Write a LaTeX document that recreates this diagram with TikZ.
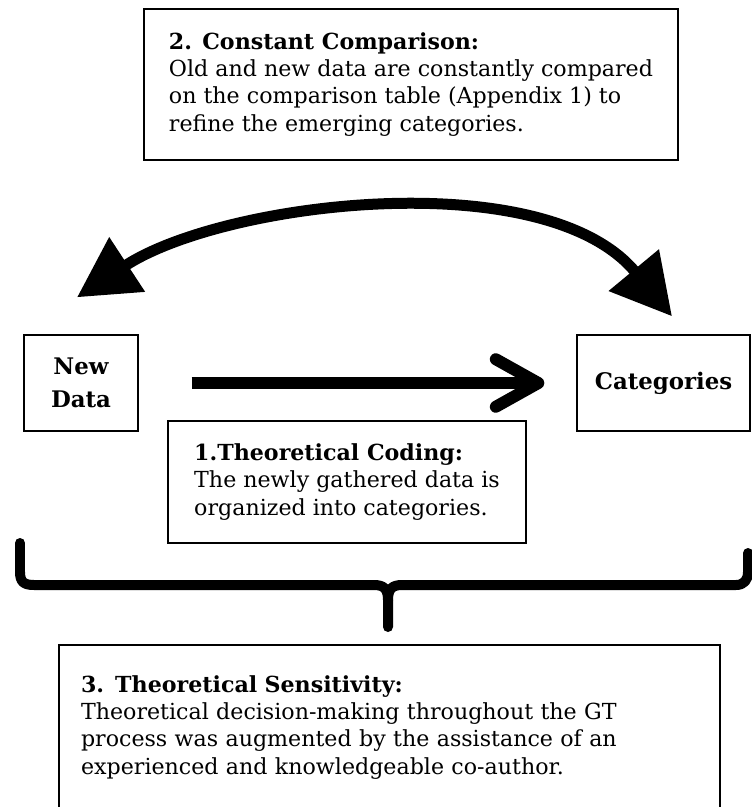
\documentclass[tikz,border=0pt]{standalone}
\usepackage{fontspec}
\setmainfont{DejaVu Serif}
\usetikzlibrary{arrows.meta}

\begin{document}
\begin{tikzpicture}[x=0.02cm, y=-0.02cm,
    textbox/.style={draw, line width=0.8pt, align=left, inner sep=0pt, font=\fontsize{12.6}{15.4}\selectfont},
    labelbox/.style={draw, line width=0.8pt, align=center, inner sep=0pt, font=\fontsize{13}{18.5}\selectfont\bfseries},
    cyclearrow/.style={line width=0.22cm, {Triangle[length=1.2cm, width=1.25cm]}-{Triangle[length=1.2cm, width=1.25cm]}},
    codearrow/.style={line width=0.24cm, -{Straight Barb[length=0.85cm, width=0.95cm, round]}},
    braceline/.style={line width=0.2cm, line cap=round, line join=round},
  ]
    \useasboundingbox (0,0) rectangle (751,807);

    % Constant comparison
    \node[textbox, minimum width=10.68cm, minimum height=3.02cm] (compare) at (411,84.5)
      {\textbf{2. Constant Comparison:}\\Old and new data are constantly compared\\on the comparison table (Appendix 1) to\\refine the emerging categories.};

    % Data and categories
    \node[labelbox, minimum width=2.28cm, minimum height=1.92cm] (newdata) at (81,383) {New\\Data};
    \node[labelbox, minimum width=3.46cm, minimum height=1.92cm] (categories) at (663.5,383) {Categories};

    % Comparison cycle between the two
    \draw[cyclearrow] ([shift={(-4,-37)}]newdata.north) .. controls (224,201) and (545,163) .. ([shift={(8.5,-18)}]categories.north);

    % Theoretical coding
    \draw[codearrow, shorten <=1.06cm, shorten >=0.64cm] (newdata.east) -- (categories.west);
    \node[textbox, minimum width=7.16cm, minimum height=2.44cm] (coding) at (347,482)
      {\textbf{1.Theoretical Coding:}\\The newly gathered data is\\organized into categories.};

    % Brace over the whole process
    \draw[braceline] (20,543) -- (20,572) .. controls (20,582) and (24,585) .. (34,585) -- (374,585) .. controls (384,585) and (388,589) .. (388,600) -- (388,627);
    \draw[braceline] (388,600) .. controls (388,589) and (392,585) .. (402,585) -- (736,585) .. controls (744,585) and (748,580) .. (748,572) -- (748,553);

    % Theoretical sensitivity
    \node[textbox, minimum width=13.22cm, minimum height=3.3cm, text width=12.34cm] (sensitivity) at (389.5,727.5)
      {\textbf{3. Theoretical Sensitivity:}\\Theoretical decision-making throughout the GT\\process was augmented by the assistance of an\\experienced and knowledgeable co-author.};
\end{tikzpicture}
\end{document}
